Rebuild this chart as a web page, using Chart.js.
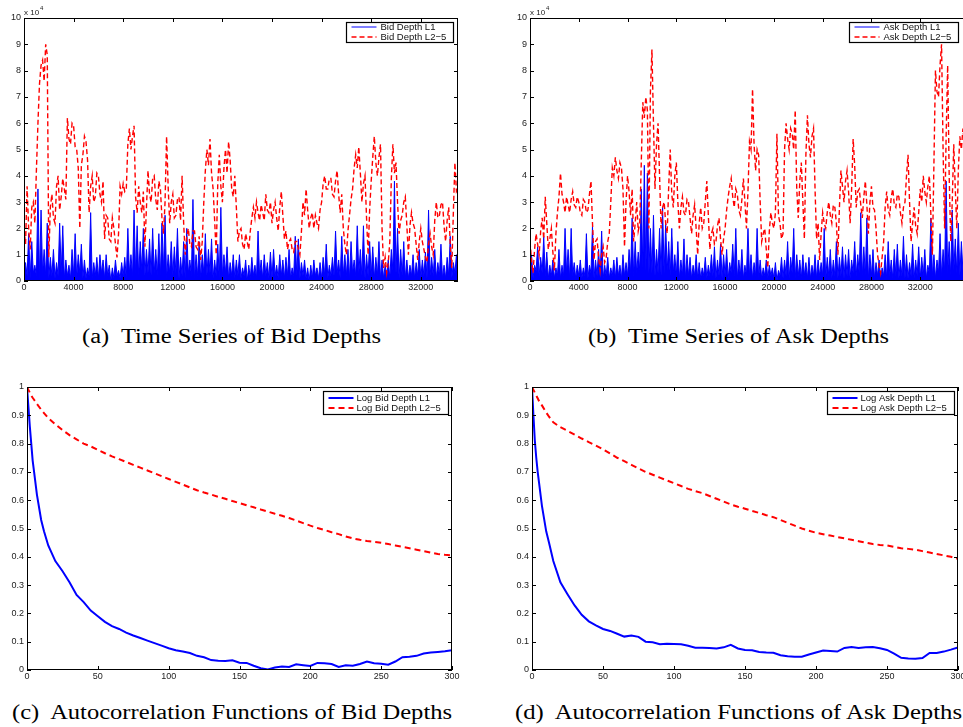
<!DOCTYPE html>
<html>
<head>
<meta charset="utf-8">
<title>Bid and Ask Depths</title>
<script src="https://cdn.jsdelivr.net/npm/chart.js@4.4.1/dist/chart.umd.min.js"></script>
<style>
  html, body { margin: 0; padding: 0; background: #fff; overflow: hidden; }
  body { width: 963px; height: 727px; position: relative; }
  canvas { position: absolute; }
  .cap {
    position: absolute;
    font-family: "Liberation Serif", "Times New Roman", serif;
    font-size: 20px;
    line-height: 20px;
    white-space: nowrap;
    color: #000;
    transform-origin: 0 0;
  }
</style>
</head>
<body>
<canvas id="bidSeries" width="470" height="300" style="left:0;top:0"></canvas>
<canvas id="askSeries" width="490" height="300" style="left:483px;top:0"></canvas>
<canvas id="bidAcf" width="470" height="315" style="left:0;top:375px"></canvas>
<canvas id="askAcf" width="480" height="315" style="left:483px;top:375px"></canvas>

<div class="cap" data-w="299" style="left:82px;top:326px">(a)&nbsp; Time Series of Bid Depths</div>
<div class="cap" data-w="301" style="left:588px;top:326px">(b)&nbsp; Time Series of Ask Depths</div>
<div class="cap" data-w="440" style="left:12px;top:702px">(c)&nbsp; Autocorrelation Functions of Bid Depths</div>
<div class="cap" data-w="447" style="left:515px;top:702px">(d)&nbsp; Autocorrelation Functions of Ask Depths</div>

<script>
// Depth values are in units of 10^4 (the axis shows the "x 10^4" multiplier)
const DEPTH_STEP = 125;   // time spacing of the depth samples

const depthXTicks = [0, 4000, 8000, 12000, 16000, 20000, 24000, 28000, 32000];
const depthYTicks = [0, 1, 2, 3, 4, 5, 6, 7, 8, 9, 10];
const acfXTicks = [0, 50, 100, 150, 200, 250, 300];
const acfYTicks = [0, 0.1, 0.2, 0.3, 0.4, 0.5, 0.6, 0.7, 0.8, 0.9, 1];

const bidDepthL1 = [
  0.1,0.7,0.2,1.8,0.1,1.5,0.3,0.6,  0.2,3.5,0.1,2.7,0.3,1.2,0.2,2.2,
  0.1,0.9,0.2,1.2,0.1,0.7,0.2,2.2,  0.3,2.1,0.1,0.8,0.2,0.6,0.1,1.2,
  0.2,1.8,0.1,1.0,0.3,1.4,0.1,0.8,  0.1,0.5,0.2,2.6,0.1,0.7,0.2,0.9,
  0.1,1.0,0.3,0.8,0.1,1.0,0.2,0.6,  0.0,0.5,0.1,0.8,0.2,0.4,0.1,0.7,
  0.2,0.9,0.1,2.0,0.3,1.0,0.2,2.7,  0.3,2.1,0.2,1.5,0.4,2.0,0.2,1.2,
  0.3,1.6,0.2,2.0,0.3,1.2,0.2,1.8,  0.2,2.2,0.4,2.5,0.1,1.0,0.3,1.5,
  0.2,1.3,0.3,2.0,0.1,0.9,0.2,1.5,  0.1,2.0,0.3,0.8,0.2,3.1,0.1,1.0,
  0.2,1.5,0.1,1.0,0.3,1.8,0.2,1.2,  0.3,1.6,0.1,0.8,0.2,1.4,0.1,2.8,
  0.2,1.0,0.3,1.3,0.1,0.7,0.2,1.0,  0.1,0.8,0.2,1.0,0.1,0.5,0.2,0.8,
  0.0,0.6,0.1,0.9,0.2,0.6,0.1,1.9,  0.2,0.8,0.1,1.0,0.2,0.7,0.1,1.1,
  0.1,1.2,0.2,0.6,0.1,1.0,0.2,0.8,  0.1,0.9,0.2,1.2,0.1,0.5,0.2,1.7,
  0.2,1.6,0.1,0.7,0.2,0.8,0.1,0.5,  0.0,0.6,0.1,0.8,0.2,0.5,0.1,0.7,
  0.1,0.9,0.2,1.4,0.1,0.6,0.2,0.9,  0.2,1.9,0.3,0.8,0.1,1.7,0.2,1.0,
  0.2,1.2,0.1,1.5,0.3,0.8,0.2,2.1,  0.3,1.2,0.2,2.1,0.1,1.0,0.2,1.5,
  0.2,1.3,0.1,0.9,0.2,1.5,0.1,0.8,  0.1,0.6,0.2,0.8,0.1,1.2,0.4,3.8,
  0.3,2.0,0.1,1.2,0.2,1.5,0.1,0.8,  0.1,0.6,0.2,1.0,0.1,0.7,0.2,1.2,
  0.1,0.8,0.2,1.1,0.1,2.7,0.2,0.9,  0.2,1.2,0.1,0.7,0.2,1.4,0.1,0.6,
  0.1,0.9,0.2,1.7,0.1,0.7,0.3,1.0,  0.5
];

const bidDepthL25 = [
  2.0,1.4,3.6,2.0,1.2,2.8,3.0,2.2,  4.2,6.0,7.5,8.2,8.4,7.6,9.0,8.6,
  0.9,2.8,3.3,2.4,2.2,3.6,4.0,2.7,  3.2,3.9,3.5,3.1,6.2,5.4,5.2,6.0,
  5.9,5.1,5.0,4.3,2.0,4.4,4.8,5.5,  5.3,4.6,2.6,3.6,4.0,3.0,3.2,4.1,
  4.0,3.3,3.0,3.8,1.6,2.5,2.4,1.6,  1.5,2.4,2.0,1.4,0.9,1.8,3.6,3.3,
  3.7,3.4,3.5,5.2,5.8,5.0,5.5,5.9,  3.2,2.6,3.6,3.0,2.6,3.4,1.3,2.8,
  4.2,3.3,3.0,3.9,4.0,3.1,2.7,3.8,  3.5,2.4,1.8,3.0,5.5,3.6,2.2,3.0,
  3.3,2.4,2.5,3.1,3.2,2.3,4.0,2.2,  1.0,1.7,2.0,1.4,1.3,1.9,1.9,1.3,
  1.2,1.7,0.8,1.5,3.0,4.2,5.0,4.4,  5.4,4.1,3.5,2.3,1.0,3.7,4.8,3.6,
  3.0,4.3,5.0,4.1,5.3,4.6,3.5,3.2,  4.0,2.8,1.5,1.9,2.0,1.4,1.2,1.8,
  1.5,1.2,1.9,2.4,2.8,2.4,3.0,2.6,  2.3,2.9,2.6,2.3,3.3,2.7,2.6,3.0,
  2.2,2.7,3.0,2.4,1.9,2.8,3.4,2.5,  1.6,1.9,1.2,1.5,1.6,1.2,1.1,1.5,
  1.5,1.2,1.0,1.9,3.0,2.5,3.5,2.7,  2.0,2.4,2.6,2.0,2.5,2.2,2.0,2.7,
  3.0,3.7,4.0,3.5,3.5,3.9,3.9,3.3,  3.2,3.8,4.2,3.3,2.6,3.3,2.0,1.4,
  1.0,1.9,2.5,3.1,3.5,4.3,4.8,4.3,  5.1,4.1,3.0,3.7,4.0,2.4,1.0,2.7,
  3.8,4.7,5.5,4.5,4.0,4.7,5.2,2.0,  0.5,0.9,0.3,0.7,1.5,3.9,5.2,4.1,
  4.5,3.0,1.8,2.3,2.5,3.0,3.2,2.1,  1.0,2.1,2.6,2.2,2.0,1.4,0.8,1.5,
  2.0,1.5,1.2,0.9,0.7,1.4,1.8,1.3,  1.0,2.3,3.0,2.4,2.5,2.9,3.0,2.1,
  1.5,2.3,2.8,1.4,0.5,2.6,4.5,3.4,  3.5
];

const askDepthL1 = [
  0.3,1.0,0.1,0.6,0.4,1.3,0.2,0.9,  0.3,1.7,0.2,1.1,0.1,0.6,0.2,0.8,
  0.1,0.5,0.2,1.2,0.1,0.6,0.2,2.0,  0.3,1.2,0.1,2.0,0.2,0.7,0.1,0.6,
  0.2,0.8,0.1,0.5,0.2,1.8,0.1,0.6,  0.3,2.1,0.1,0.8,0.2,1.2,0.1,1.9,
  0.1,0.6,0.2,0.9,0.1,0.5,0.2,0.8,  0.1,0.9,0.2,0.6,0.1,1.0,0.2,0.7,
  0.2,1.2,0.3,2.4,0.2,1.5,0.3,1.1,  0.4,3.5,0.5,4.4,0.4,4.1,0.3,2.0,
  0.3,2.5,0.2,1.2,0.3,2.0,0.2,2.8,  0.3,2.2,0.4,1.5,0.2,2.0,0.3,1.0,
  0.2,1.5,0.1,0.8,0.2,1.6,0.1,1.0,  0.2,0.9,0.1,0.6,0.2,1.0,0.1,0.7,
  0.1,0.5,0.2,0.9,0.1,0.6,0.2,1.0,  0.2,1.3,0.1,0.8,0.2,1.4,0.1,1.0,
  0.2,1.2,0.1,0.7,0.3,1.4,0.2,2.0,  0.1,0.8,0.2,1.2,0.1,0.6,0.2,2.0,
  0.2,1.0,0.1,0.7,0.2,2.0,0.1,0.8,  0.1,0.5,0.2,0.8,0.1,0.6,0.2,0.5,
  0.1,0.7,0.0,0.4,0.2,0.9,0.1,0.8,  0.2,1.5,0.1,0.9,0.3,2.0,0.1,1.0,
  0.2,0.8,0.1,1.0,0.2,0.7,0.1,0.9,  0.1,0.6,0.2,1.0,0.1,0.8,0.2,0.7,
  0.2,2.0,0.1,0.9,0.2,1.2,0.1,0.8,  0.2,1.5,0.1,0.9,0.2,1.3,0.1,1.0,
  0.2,1.2,0.1,0.8,0.3,1.5,0.2,1.0,  0.3,2.6,0.2,1.3,0.2,2.4,0.1,1.0,
  0.2,1.2,0.1,0.7,0.2,0.8,0.1,0.5,  0.2,1.0,0.1,1.5,0.2,0.8,0.1,1.2,
  0.2,1.4,0.1,0.8,0.2,1.7,0.1,1.0,  0.1,0.7,0.2,1.4,0.1,0.8,0.2,1.3,
  0.1,0.9,0.2,1.2,0.1,0.6,0.3,2.4,  0.2,1.0,0.1,0.8,0.3,1.8,0.2,1.2,
  0.4,3.8,0.3,1.5,0.2,2.7,0.4,1.6,  0.3,2.2,0.2,1.5,0.4,1.2,0.4
];

const askDepthL25 = [
  1.5,0.8,0.3,1.2,1.8,1.4,1.0,1.9,  2.4,1.6,3.2,2.2,1.2,1.6,2.0,1.1,
  0.4,1.8,2.6,3.2,4.1,3.3,3.0,2.6,  3.2,2.9,2.6,3.1,3.4,2.9,2.8,3.2,
  3.0,2.6,2.5,3.1,3.0,2.6,2.7,3.3,  3.8,2.2,0.8,1.5,1.6,0.9,0.4,1.0,
  1.3,0.7,0.9,1.5,1.8,3.0,4.3,4.0,  4.7,4.2,3.9,4.5,4.3,3.5,1.3,3.0,
  4.0,3.4,2.5,3.5,1.5,2.2,3.0,1.9,  2.2,4.5,6.8,6.2,7.0,6.5,2.0,7.2,
  8.8,6.0,3.5,5.2,6.0,4.0,2.0,2.8,  3.0,2.2,1.8,3.6,5.0,3.3,2.8,4.0,
  4.5,3.0,2.0,2.8,3.2,2.6,2.5,3.1,  3.0,2.4,1.8,2.5,2.9,2.0,1.0,2.2,
  2.8,2.0,2.2,3.0,3.8,2.5,1.2,1.8,  2.0,1.4,1.5,2.1,2.4,1.6,1.0,1.6,
  2.0,2.7,3.2,3.6,3.9,3.2,2.8,3.5,  3.3,2.7,2.5,3.1,3.9,3.0,2.0,3.4,
  5.3,5.0,7.3,5.2,4.2,5.0,4.8,3.0,  1.5,1.8,2.0,1.2,0.5,1.9,2.6,2.2,
  2.0,2.6,5.6,2.5,2.2,1.6,1.8,5.0,  6.0,5.4,5.0,5.8,5.6,5.0,6.5,3.5,
  2.4,3.8,4.5,3.0,1.6,4.8,6.3,5.2,  4.7,5.5,5.8,3.5,1.6,2.2,0.8,1.8,
  2.6,2.2,2.0,2.6,3.0,2.5,2.2,2.9,  2.8,2.2,1.0,2.8,4.2,3.6,3.0,3.8,
  4.2,3.4,2.2,3.5,5.4,4.4,2.8,3.4,  3.5,2.9,2.4,3.2,3.8,2.9,1.8,3.0,
  3.6,2.8,2.7,2.0,1.0,0.6,0.3,0.9,  1.5,2.8,3.4,2.7,2.5,3.2,3.5,2.9,
  2.8,3.3,3.2,2.6,2.2,2.8,3.0,4.0,  4.8,3.0,1.5,2.2,2.8,2.1,1.8,2.6,
  3.5,3.0,4.0,3.4,3.0,3.6,4.0,2.5,  1.0,4.5,8.0,7.2,7.0,8.2,9.0,5.0,
  2.0,5.5,8.2,4.0,1.5,3.0,5.2,3.5,  2.0,4.2,5.5,5.0,5.8,5.2,5.5
];

const acfLags = [
  0, 1, 2, 3, 4, 5, 7, 10, 12, 15, 20, 25, 30, 35, 40, 45, 50, 55, 60, 65,
  70, 75, 80, 85, 90, 95, 100, 105, 110, 115, 120, 125, 130, 135, 140, 145,
  150, 155, 160, 165, 170, 175, 180, 185, 190, 195, 200, 205, 210, 215, 220,
  225, 230, 235, 240, 245, 250, 255, 260, 265, 270, 275, 280, 285, 290, 295, 300
];

const acfBidL1 = [
  1.0, 0.93, 0.86, 0.80, 0.74, 0.70, 0.62, 0.53, 0.49, 0.44, 0.385, 0.35, 0.31, 0.265,
  0.24, 0.21, 0.19, 0.17, 0.155, 0.145, 0.132, 0.122, 0.113, 0.104, 0.095, 0.086,
  0.077, 0.07, 0.065, 0.06, 0.05, 0.045, 0.035, 0.033, 0.032, 0.034, 0.026, 0.025,
  0.015, 0.006, 0.002, 0.009, 0.012, 0.011, 0.02, 0.017, 0.014, 0.025, 0.024, 0.021,
  0.011, 0.017, 0.015, 0.021, 0.03, 0.024, 0.022, 0.019, 0.03, 0.045, 0.047, 0.05,
  0.058, 0.062, 0.064, 0.066, 0.07
];

const acfBidL25 = [
  1.0, 0.99, 0.98, 0.97, 0.962, 0.955, 0.94, 0.92, 0.908, 0.89, 0.868, 0.848, 0.83,
  0.815, 0.80, 0.79, 0.778, 0.766, 0.755, 0.745, 0.735, 0.725, 0.715, 0.705, 0.695,
  0.685, 0.675, 0.665, 0.655, 0.645, 0.635, 0.627, 0.62, 0.612, 0.605, 0.597, 0.59,
  0.582, 0.575, 0.567, 0.56, 0.552, 0.545, 0.537, 0.528, 0.519, 0.51, 0.502, 0.495,
  0.487, 0.48, 0.472, 0.465, 0.46, 0.456, 0.453, 0.45, 0.445, 0.44, 0.435, 0.43,
  0.425, 0.42, 0.415, 0.41, 0.407, 0.405
];

const acfAskL1 = [
  1.0, 0.9, 0.81, 0.75, 0.70, 0.66, 0.58, 0.49, 0.45, 0.385, 0.31, 0.268, 0.228, 0.195,
  0.172, 0.158, 0.145, 0.138, 0.128, 0.118, 0.122, 0.117, 0.10, 0.098, 0.091, 0.093,
  0.092, 0.091, 0.086, 0.079, 0.079, 0.078, 0.076, 0.08, 0.089, 0.076, 0.071, 0.07,
  0.064, 0.062, 0.061, 0.052, 0.049, 0.047, 0.047, 0.055, 0.062, 0.069, 0.067, 0.065,
  0.078, 0.081, 0.078, 0.08, 0.081, 0.077, 0.071, 0.058, 0.043, 0.041, 0.04, 0.042,
  0.06, 0.06, 0.065, 0.072, 0.08
];

const acfAskL25 = [
  1.0, 0.99, 0.98, 0.97, 0.96, 0.95, 0.935, 0.91, 0.895, 0.875, 0.858, 0.845, 0.832,
  0.818, 0.805, 0.793, 0.78, 0.765, 0.75, 0.738, 0.725, 0.712, 0.70, 0.69, 0.68, 0.67,
  0.66, 0.65, 0.64, 0.632, 0.625, 0.615, 0.605, 0.595, 0.585, 0.577, 0.57, 0.562,
  0.555, 0.547, 0.54, 0.53, 0.52, 0.51, 0.5, 0.492, 0.485, 0.48, 0.475, 0.47, 0.465,
  0.46, 0.455, 0.45, 0.445, 0.442, 0.44, 0.435, 0.43, 0.428, 0.425, 0.42, 0.415,
  0.41, 0.405, 0.4, 0.393
];

const BLUE = '#0000ff';
const RED = '#ff0000';
const tickFont = { family: '"Liberation Sans", Arial, sans-serif', size: 9 };
const legendFont = '9.5px "Liberation Sans", Arial, sans-serif';

// Box with ticks pointing inward on all four sides, like a MATLAB axes
const matlabFrame = {
  id: 'matlabFrame',
  afterDatasetsDraw(chart, args, opts) {
    const { ctx, chartArea: a, scales } = chart;
    const len = 4;
    ctx.save();
    ctx.strokeStyle = '#000';
    ctx.lineWidth = 1;
    ctx.beginPath();
    scales.x.ticks.forEach(t => {
      const px = Math.round(scales.x.getPixelForValue(t.value)) + 0.5;
      ctx.moveTo(px, a.bottom); ctx.lineTo(px, a.bottom - len);
      ctx.moveTo(px, a.top); ctx.lineTo(px, a.top + len);
    });
    scales.y.ticks.forEach(t => {
      const py = Math.round(scales.y.getPixelForValue(t.value)) + 0.5;
      ctx.moveTo(a.left, py); ctx.lineTo(a.left + len, py);
      ctx.moveTo(a.right, py); ctx.lineTo(a.right - len, py);
    });
    ctx.stroke();
    ctx.strokeRect(Math.round(a.left) + 0.5, Math.round(a.top) + 0.5,
                   Math.round(a.width) - 1, Math.round(a.height) - 1);

    if (opts.exponent) {
      ctx.fillStyle = '#222';
      ctx.textBaseline = 'alphabetic';
      ctx.font = '8px "Liberation Sans", Arial, sans-serif';
      ctx.fillText('x 10', a.left, a.top - 3);
      const w = ctx.measureText('x 10').width;
      ctx.font = '6px "Liberation Sans", Arial, sans-serif';
      ctx.fillText(opts.exponent, a.left + w + 1, a.top - 8);
    }
    ctx.restore();
  }
};

// Boxed legend drawn inside the top right corner of the plot area
const boxLegend = {
  id: 'boxLegend',
  afterDraw(chart, args, o) {
    const { ctx, chartArea: a } = chart;
    const sets = chart.data.datasets;
    ctx.save();
    ctx.font = legendFont;
    const textW = Math.max(...sets.map(d => ctx.measureText(d.label).width));
    const w = Math.round(5 + o.lineLen + o.gap + textW + o.padRight);
    const x = Math.round(a.right - o.right - w) + 0.5;
    const y = Math.round(a.top + o.top) + 0.5;
    ctx.fillStyle = '#fff';
    ctx.fillRect(x, y, w, o.height);
    ctx.strokeStyle = '#000';
    ctx.lineWidth = 1.2;
    ctx.strokeRect(x, y, w, o.height);
    sets.forEach((d, i) => {
      const cy = Math.round(y + o.firstRow + i * o.rowH);
      ctx.beginPath();
      ctx.strokeStyle = d.borderColor;
      ctx.lineWidth = d.borderWidth;
      ctx.setLineDash(d.borderDash || []);
      ctx.moveTo(x + 5, cy);
      ctx.lineTo(x + 5 + o.lineLen, cy);
      ctx.stroke();
      ctx.setLineDash([]);
      ctx.fillStyle = '#111';
      ctx.textBaseline = 'middle';
      ctx.fillText(d.label, x + 5 + o.lineLen + o.gap, cy);
    });
    ctx.restore();
  }
};

function axis(min, max, tickValues, size, isX) {
  return {
    type: 'linear',
    min: min,
    max: max,
    grid: { display: false, drawTicks: false },
    border: { display: false },
    ticks: {
      font: tickFont,
      color: '#222',
      padding: isX ? 1 : 3,
      maxRotation: 0,
      autoSkip: false,
      callback: v => String(v)
    },
    afterBuildTicks: s => { s.ticks = tickValues.map(v => ({ value: v })); },
    afterFit: s => {
      if (isX) { s.height = size; s.paddingLeft = 0; s.paddingRight = 0; }
      else { s.width = size; s.paddingTop = 0; s.paddingBottom = 0; }
    }
  };
}

function series(values) {
  return values.map((v, i) => ({ x: i * DEPTH_STEP, y: v }));
}

function lagSeries(values) {
  return acfLags.map((lag, i) => ({ x: lag, y: values[i] }));
}

function makeChart(id, datasets, cfg) {
  return new Chart(document.getElementById(id), {
    type: 'line',
    data: { datasets: datasets },
    options: {
      responsive: false,
      animation: false,
      events: [],
      layout: { padding: cfg.padding },
      elements: { point: { radius: 0 }, line: { tension: 0 } },
      plugins: {
        legend: { display: false },
        tooltip: { enabled: false },
        matlabFrame: { exponent: cfg.exponent },
        boxLegend: cfg.legend
      },
      scales: {
        x: axis(0, cfg.xMax, cfg.xTicks, cfg.xAxisH, true),
        y: axis(0, cfg.yMax, cfg.yTicks, cfg.yAxisW, false)
      }
    },
    plugins: [matlabFrame, boxLegend]
  });
}

function depthSets(name, l1, l25) {
  return [
    {
      label: name + ' Depth L1',
      data: series(l1),
      borderColor: BLUE,
      backgroundColor: BLUE,
      borderWidth: 1,
      fill: 'origin',
      order: 2
    },
    {
      label: name + ' Depth L2\u22125',
      data: series(l25),
      borderColor: RED,
      borderWidth: 1.4,
      borderDash: [5, 3],
      fill: false,
      order: 1
    }
  ];
}

function acfSets(name, l1, l25) {
  return [
    {
      label: 'Log ' + name + ' Depth L1',
      data: lagSeries(l1),
      borderColor: BLUE,
      borderWidth: 2,
      fill: false,
      order: 2
    },
    {
      label: 'Log ' + name + ' Depth L2\u22125',
      data: lagSeries(l25),
      borderColor: RED,
      borderWidth: 2,
      borderDash: [6, 4],
      fill: false,
      order: 1
    }
  ];
}

const topLegend = { top: 4, height: 20, firstRow: 4.5, rowH: 9.5, lineLen: 25, gap: 4, padRight: 7 };
const acfLegend = { top: 4, height: 23, firstRow: 6.5, rowH: 9.6, lineLen: 25, gap: 3, padRight: 8 };

makeChart('bidSeries', depthSets('Bid', bidDepthL1, bidDepthL25), {
  padding: { top: 18, right: 12, left: 0, bottom: 0 },
  xMax: 35000, yMax: 10, xTicks: depthXTicks, yTicks: depthYTicks,
  xAxisH: 19, yAxisW: 24, exponent: '4',
  legend: Object.assign({ right: 5 }, topLegend)
});

makeChart('askSeries', depthSets('Ask', askDepthL1, askDepthL25), {
  padding: { top: 18, right: 4, left: 0, bottom: 0 },
  xMax: 36000, yMax: 10, xTicks: depthXTicks, yTicks: depthYTicks,
  xAxisH: 19, yAxisW: 47, exponent: '4',
  legend: Object.assign({ right: 11 }, topLegend)
});

makeChart('bidAcf', acfSets('Bid', acfBidL1, acfBidL25), {
  padding: { top: 12, right: 18, left: 0, bottom: 0 },
  xMax: 300, yMax: 1, xTicks: acfXTicks, yTicks: acfYTicks,
  xAxisH: 20, yAxisW: 27,
  legend: Object.assign({ right: 4 }, acfLegend)
});

makeChart('askAcf', acfSets('Ask', acfAskL1, acfAskL25), {
  padding: { top: 12, right: 5, left: 0, bottom: 0 },
  xMax: 300, yMax: 1, xTicks: acfXTicks, yTicks: acfYTicks,
  xAxisH: 20, yAxisW: 49,
  legend: Object.assign({ right: 4 }, acfLegend)
});

// Stretch the captions to the widths they have in the figure
document.querySelectorAll('.cap').forEach(el => {
  const w = el.getBoundingClientRect().width;
  el.style.transform = 'scaleX(' + (el.dataset.w / w) + ')';
});
</script>
</body>
</html>
